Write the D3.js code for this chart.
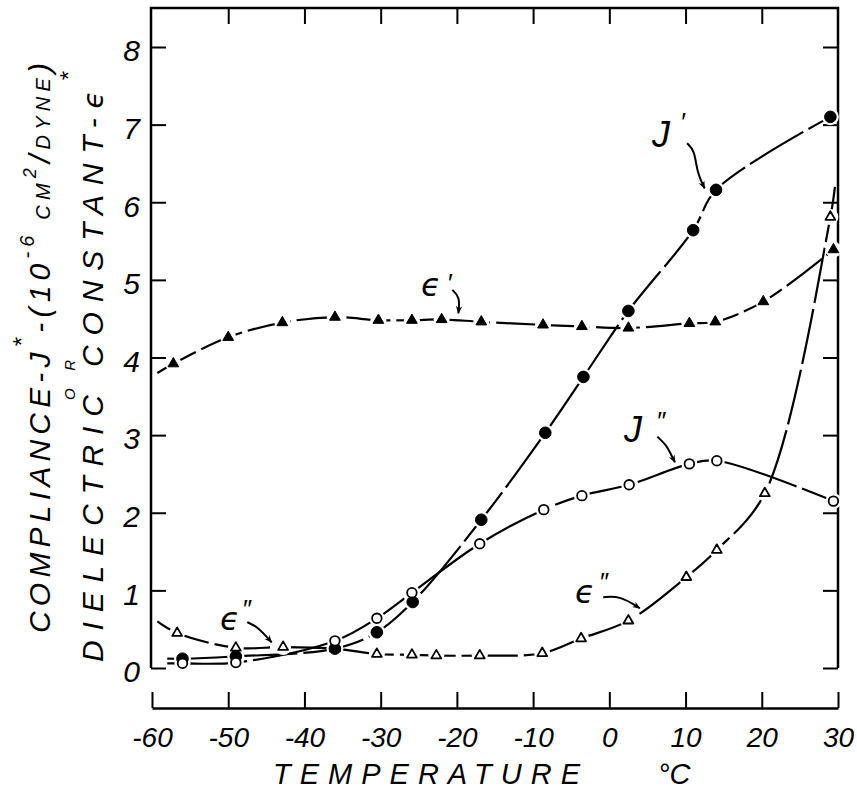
<!DOCTYPE html>
<html>
<head>
<meta charset="utf-8">
<script src="https://cdn.jsdelivr.net/npm/d3@7"></script>
<style>
body { margin: 0; background: #fff; }
text { font-family: "Liberation Sans", "DejaVu Sans", sans-serif; font-style: italic; fill: #000; }
.greek { font-family: "DejaVu Sans", sans-serif; }
</style>
</head>
<body>
<svg width="857" height="791"></svg>
<script>
// values (temperature in deg C)
var tempJ      = [-56, -49, -36, -30.5, -25.8, -16.8, -8.4, -3.4, 2.5, 11, 14, 29];
var jPrime     = [0.12, 0.15, 0.25, 0.46, 0.85, 1.91, 3.03, 3.75, 4.6, 5.64, 6.16, 7.10];
var tempJ2     = [-56, -49, -36, -30.5, -25.9, -17, -8.6, -3.6, 2.6, 10.5, 14.1, 29.4];
var jDouble    = [0.06, 0.07, 0.35, 0.64, 0.97, 1.60, 2.04, 2.22, 2.36, 2.63, 2.67, 2.15];
var tempEps1   = [-57.2, -50, -42.9, -36, -30.3, -25.9, -22, -16.8, -8.7, -3.6, 2.5, 10.5, 13.9, 20.2, 29.4];
var epsPrime   = [3.92, 4.26, 4.45, 4.52, 4.48, 4.48, 4.49, 4.46, 4.42, 4.40, 4.38, 4.44, 4.46, 4.72, 5.39];
var tempEps2   = [-56.7, -49, -42.8, -36, -30.5, -25.9, -22.7, -17, -8.8, -3.7, 2.5, 10.1, 14.1, 20.4, 29];
var epsDouble  = [0.45, 0.26, 0.27, 0.25, 0.18, 0.17, 0.16, 0.16, 0.19, 0.38, 0.61, 1.17, 1.52, 2.25, 5.81];

// where the drawn curves begin / end beyond the first and last points
var jPrimeStart = [-58, 0.12];
var jDoubleStart = [-58, 0.06];
var epsPrimeStart = [-59.3, 3.8];
var epsDoubleStart = [-59.3, 0.6];
var epsDoubleEnd = [29.6, 6.2];

var xTicks = [-60, -50, -40, -30, -20, -10, 0, 10, 20, 30];
var xTopTicks = [-50, -40, -30, -20, -10, 0, 10, 20];
var yTicks = [0, 1, 2, 3, 4, 5, 6, 7, 8];

// annotation arrows, in data units
var arrowJ1 = [[10.2, 6.76], [11.2, 6.67], [11.5, 6.38], [12.5, 6.18]];
var arrowE1 = [[-20.6, 4.87], [-19.6, 4.78], [-19.8, 4.57]];
var arrowJ2 = [[6.3, 2.98], [7.5, 2.87], [8.0, 2.77], [8.6, 2.65]];
var arrowE2r = [[-0.8, 0.91], [1.4, 0.93], [4.0, 0.77]];
var arrowE2l = [[-47.5, 0.59], [-46.1, 0.53], [-44.3, 0.33]];

var svg = d3.select("svg");

var x = d3.scaleLinear().domain([-60, 30]).range([152, 838]);
var y = d3.scaleLinear().domain([0, 8]).range([668, 47]);

svg.append("defs").append("marker")
    .attr("id", "head")
    .attr("viewBox", "0 0 10 10")
    .attr("refX", 9).attr("refY", 5)
    .attr("markerWidth", 9).attr("markerHeight", 8)
    .attr("markerUnits", "userSpaceOnUse")
    .attr("orient", "auto")
  .append("path")
    .attr("d", "M0,1 L10,5 L0,9 L3,5 Z")
    .attr("fill", "#000");

// frame
svg.append("path")
    .attr("d", "M151,668 L151,8 L838,8 L838,668")
    .attr("fill", "none").attr("stroke", "#000").attr("stroke-width", 2.5);

function clean(g) {
  g.select(".domain").remove();
  g.selectAll(".tick line").attr("stroke-width", 2);
}

svg.append("g").attr("transform", "translate(151,0)")
    .call(d3.axisRight(y).tickValues(yTicks).tickSize(15).tickFormat(""))
    .call(clean);
svg.append("g").attr("transform", "translate(838,0)")
    .call(d3.axisLeft(y).tickValues(yTicks).tickSize(15).tickFormat(""))
    .call(clean);
svg.append("g").attr("transform", "translate(0,8)")
    .call(d3.axisBottom(x).tickValues(xTopTicks).tickSize(16).tickFormat(""))
    .call(clean);

var xb = svg.append("g").attr("transform", "translate(0,708)")
    .call(d3.axisTop(x).tickValues(xTicks).tickSize(16).tickSizeOuter(0).tickFormat(""));
xb.select(".domain").attr("stroke-width", 2.5);
xb.selectAll(".tick line").attr("stroke-width", 2);

var xl = svg.append("g").attr("transform", "translate(0,708)")
    .call(d3.axisBottom(x).tickValues(xTicks).tickSize(0).tickPadding(19).tickFormat(function(d) { return String(d); }));
xl.select(".domain").remove();
xl.selectAll("text").attr("font-size", 28).attr("font-family", null).attr("fill", "#000");

var yl = svg.append("g").attr("transform", "translate(151,0)")
    .call(d3.axisLeft(y).tickValues(yTicks).tickSize(0).tickPadding(11));
yl.select(".domain").remove();
yl.selectAll("text").attr("font-size", 30).attr("font-family", null).attr("fill", "#000").attr("dy", "0.46em");

// axis titles
svg.append("text").attr("x", 273).attr("y", 784).attr("font-size", 29)
    .attr("textLength", 307).attr("lengthAdjust", "spacing").text("TEMPERATURE");
svg.append("text").attr("x", 658).attr("y", 784).attr("font-size", 29).text("°C");

var t1 = svg.append("text").attr("transform", "translate(50,633) rotate(-90)")
    .attr("font-size", 30).attr("textLength", 570).attr("lengthAdjust", "spacing");
t1.append("tspan").text("COMPLIANCE-J");
t1.append("tspan").attr("font-size", 24).attr("dy", -20).text("*");
t1.append("tspan").attr("dy", 20).text("-(10");
t1.append("tspan").attr("font-size", 20).attr("dy", -16).text("-6");
t1.append("tspan").attr("font-size", 20).attr("dy", 16).text(" CM");
t1.append("tspan").attr("font-size", 18).attr("dy", -14).text("2");
t1.append("tspan").attr("font-size", 30).attr("dy", 14).text("/");
t1.append("tspan").attr("font-size", 20).text("DYNE");
t1.append("tspan").attr("font-size", 30).text(")");

svg.append("text").attr("transform", "translate(75,400) rotate(-90)")
    .attr("font-size", 15).attr("textLength", 40).attr("lengthAdjust", "spacing").text("OR");

var t2 = svg.append("text").attr("transform", "translate(103,662) rotate(-90)")
    .attr("font-size", 30).attr("textLength", 590).attr("lengthAdjust", "spacing");
t2.append("tspan").text("DIELECTRIC  CONSTANT-");
t2.append("tspan").attr("class", "greek").attr("font-size", 28).text("ϵ");
t2.append("tspan").attr("font-size", 24).attr("dy", -26).text("*");

// curves
var line = d3.line()
    .x(function(d) { return x(d[0]); })
    .y(function(d) { return y(d[1]); })
    .curve(d3.curveCatmullRom.alpha(0.5));

function pts(t, v) { return t.map(function(d, i) { return [d, v[i]]; }); }

var curves = [
  { p: [jPrimeStart].concat(pts(tempJ, jPrime)), dash: "62,6" },
  { p: [jDoubleStart].concat(pts(tempJ2, jDouble)), dash: "80,6" },
  { p: [epsPrimeStart].concat(pts(tempEps1, epsPrime)), dash: "44,6" },
  { p: [epsDoubleStart].concat(pts(tempEps2, epsDouble), [epsDoubleEnd]), dash: "56,6" }
];

svg.append("g").selectAll("path")
    .data(curves)
    .enter().append("path")
      .attr("d", function(d) { return line(d.p); })
      .attr("fill", "none")
      .attr("stroke", "#000")
      .attr("stroke-width", 2.2)
      .attr("stroke-dasharray", function(d) { return d.dash; });

// markers (white halo makes the break in the line around each point)
var tri = d3.symbol().type(d3.symbolTriangle);

function triangles(t, v, filled) {
  var g = svg.append("g");
  g.selectAll("path")
      .data(pts(t, v))
      .enter().append("path")
        .attr("transform", function(d) { return "translate(" + x(d[0]) + "," + y(d[1]) + ")"; })
        .attr("d", tri.size(filled ? 50 : 42)())
        .attr("fill", filled ? "#000" : "#fff")
        .attr("stroke", "#000")
        .attr("stroke-width", filled ? 1 : 1.8)
        .attr("stroke-linejoin", "round");
}

function circles(t, v, filled) {
  var g = svg.append("g");
  g.selectAll("circle")
      .data(pts(t, v))
      .enter().append("circle")
        .attr("cx", function(d) { return x(d[0]); })
        .attr("cy", function(d) { return y(d[1]); })
        .attr("r", filled ? 5.8 : 4.8)
        .attr("fill", filled ? "#000" : "#fff")
        .attr("stroke", "#000")
        .attr("stroke-width", filled ? 1 : 1.8);
}

function halo(t, v, r) {
  svg.append("g").selectAll("circle")
      .data(pts(t, v))
      .enter().append("circle")
        .attr("cx", function(d) { return x(d[0]); })
        .attr("cy", function(d) { return y(d[1]); })
        .attr("r", r)
        .attr("fill", "#fff");
}

halo(tempEps1, epsPrime, 8);
halo(tempEps2, epsDouble, 8);
halo(tempJ, jPrime, 8.5);
halo(tempJ2, jDouble, 8);

triangles(tempEps1, epsPrime, true);
triangles(tempEps2, epsDouble, false);
circles(tempJ, jPrime, true);
circles(tempJ2, jDouble, false);

// annotations
var aline = d3.line()
    .x(function(d) { return x(d[0]); })
    .y(function(d) { return y(d[1]); })
    .curve(d3.curveBasis);

svg.append("g").selectAll("path")
    .data([arrowJ1, arrowE1, arrowJ2, arrowE2r, arrowE2l])
    .enter().append("path")
      .attr("d", aline)
      .attr("fill", "none")
      .attr("stroke", "#000")
      .attr("stroke-width", 2)
      .attr("marker-end", "url(#head)");

function label(px, py, main, mark, mdx, mdy, greek) {
  var t = svg.append("text").attr("x", px).attr("y", py).attr("font-size", greek ? 32 : 36);
  if (greek) t.attr("class", "greek");
  t.append("tspan").text(main);
  t.append("tspan").attr("font-family", "Liberation Sans").attr("font-size", 26)
      .attr("dx", mdx).attr("dy", mdy).text(mark);
}

label(652, 147, "J", "′", 10, -16, false);
label(624, 442, "J", "″", 14, -12, false);
label(421, 296, "ϵ", "′", 6, -4, true);
label(575, 603, "ϵ", "″", 4, -12, true);
label(220, 630, "ϵ", "″", 2, -12, true);
</script>
</body>
</html>
